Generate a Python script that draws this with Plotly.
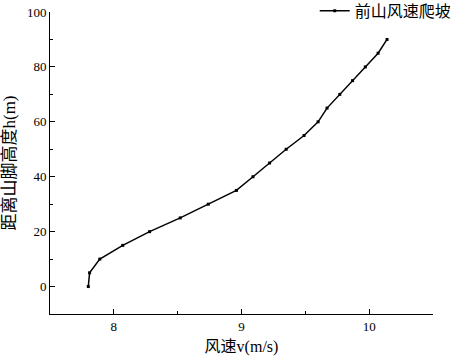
import plotly.graph_objects as go

speed = [7.80, 7.81, 7.89, 8.07, 8.28, 8.52, 8.74, 8.96, 9.09, 9.22, 9.35, 9.49,
         9.60, 9.67, 9.77, 9.87, 9.97, 10.07, 10.14]
height = [0, 5, 10, 15, 20, 25, 30, 35, 40, 45, 50, 55, 60, 65, 70, 75, 80, 85, 90]
series_name = "前山风速爬坡"
x_title = "风速v(m/s)"
y_title = "距离山脚高度h(m)"

FONT = "Liberation Serif"
FONT_CJK = "Liberation Serif, Noto Sans CJK SC"

fig = go.Figure()
fig.add_trace(go.Scatter(
    x=speed, y=height, mode="lines+markers", name=series_name,
    line=dict(color="black", width=1.5),
    marker=dict(symbol="square", size=3, color="black"),
))

axis_common = dict(
    showline=True, linecolor="black", linewidth=1, mirror=False,
    showgrid=False, zeroline=False, ticks="inside", ticklen=5, tickwidth=1,
    tickcolor="black", tickfont=dict(family=FONT, size=13, color="black"),
    automargin=True, ticklabeloverflow="allow",
)

fig.update_xaxes(
    range=[7.5, 10.5], dtick=1, tick0=8,
    minor=dict(ticks="inside", ticklen=3, dtick=0.5, tick0=7.5, tickcolor="black", showgrid=False),
    title=dict(text=x_title, font=dict(family=FONT_CJK, size=16, color="black"), standoff=8),
    **axis_common,
)
fig.update_yaxes(
    range=[-10, 100], dtick=20, tick0=0,
    minor=dict(ticks="inside", ticklen=3, dtick=10, tick0=0, tickcolor="black", showgrid=False),
    title=dict(text=y_title, font=dict(family=FONT_CJK, size=17, color="black"), standoff=12),
    **axis_common,
)

fig.update_layout(
    width=453, height=361,
    margin=dict(l=50, r=20, t=12, b=47, autoexpand=False),
    paper_bgcolor="white", plot_bgcolor="white",
    showlegend=True,
    legend=dict(x=1.062, y=1.06, xanchor="right", yanchor="top",
                font=dict(family=FONT_CJK, size=16, color="black"),
                bgcolor="rgba(0,0,0,0)", itemwidth=30),
)

fig.write_html("out.html", config={"displayModeBar": False},
               post_script="document.body.style.margin='0';")
